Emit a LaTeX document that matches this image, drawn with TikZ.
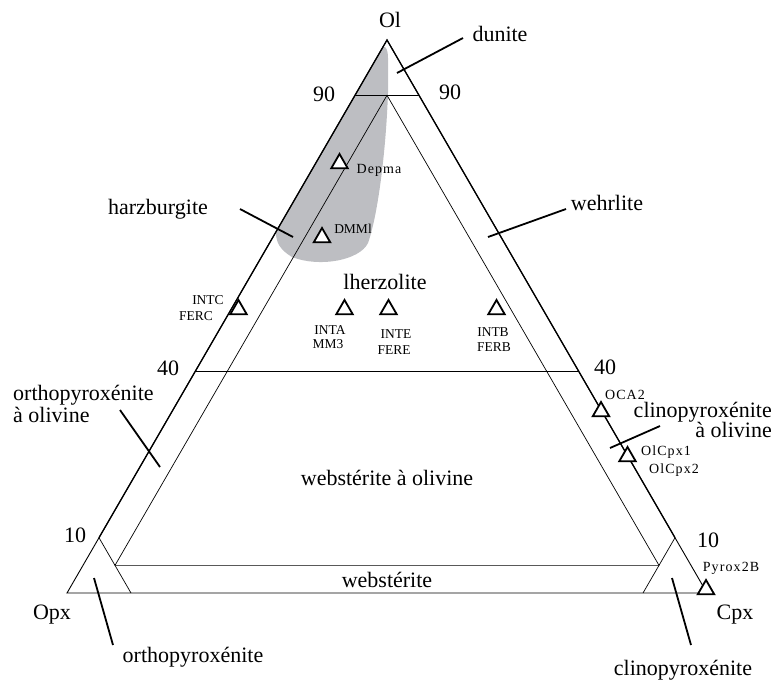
\documentclass[tikz,border=0pt]{standalone}
\usepackage{fontspec}
\setmainfont{Liberation Serif}
\usetikzlibrary{shapes.geometric}
\definecolor{zone}{RGB}{189,190,194}
\tikzset{
  biglabel/.style={font=\fontsize{22}{22}\selectfont, inner sep=0pt},
  smalllabel/.style={font=\fontsize{13.5}{15}\selectfont, inner sep=0pt},
  spacedlabel/.style={font=\fontsize{14}{16}\selectfont\addfontfeature{LetterSpace=8}, inner sep=0pt},
  marker/.style={regular polygon, regular polygon sides=3, draw, fill=white, line width=1.8pt, minimum size=19pt, inner sep=0pt},
  leader/.style={line width=1.8pt},
  border/.style={line width=0.9pt},
  heavyborder/.style={line width=1.3pt},
  innerline/.style={line width=0.7pt},
}
\begin{document}
\begin{tikzpicture}[x=1pt,y=-1pt]
\useasboundingbox (0,0) rectangle (776,681);
% vertices and construction points
\coordinate (Ol) at (387,40);
\coordinate (Opx) at (67,593);
\coordinate (Cpx) at (707,593);
\coordinate (L90) at (355,95.3);
\coordinate (R90) at (419,95.3);
\coordinate (L40) at (195,371.8);
\coordinate (R40) at (579,371.8);
\coordinate (L10) at (99,537.7);
\coordinate (R10) at (675,537.7);
\coordinate (B10) at (131,593);
\coordinate (B90) at (643,593);
\coordinate (ITop) at (387,95.3);
\coordinate (ILeft) at (115,565.35);
\coordinate (IRight) at (659,565.35);
% grey field
\fill[zone] (381,50) .. controls (383,44) and (388,46) .. (388,58) -- (388,93)
  .. controls (386,150) and (378,215) .. (368,243)
  .. controls (360,260) and (320,268) .. (292,257)
  .. controls (280,250) and (276,242) .. (276,233) -- cycle;
% outer triangle
\draw[border] (Ol) -- (Opx) -- (Cpx) -- cycle;
\draw[heavyborder] (L10) -- (Ol) -- (R10);
% inner triangle and lines
\draw[innerline] (ITop) -- (ILeft) -- (IRight) -- cycle;
\draw[innerline] (L90) -- (R90);
\draw[innerline] (L40) -- (R40);
\draw[innerline] (L10) -- (B10);
\draw[innerline] (R10) -- (B90);
% vertex labels
\node[biglabel] (tOl) at (390,20) {Ol};
\node[biglabel] (tOpx) at (52,615) {Opx};
\node[biglabel] (tCpx) at (735,615) {Cpx};
% scale numbers
\node[biglabel] (n90l) at (324,94) {90};
\node[biglabel] (n90r) at (450,92) {90};
\node[biglabel] (n40l) at (168,368) {40};
\node[biglabel] (n40r) at (605,367) {40};
\node[biglabel] (n10l) at (75,535) {10};
\node[biglabel] (n10r) at (708,540) {10};
% field labels
\node[biglabel] (dunite) at (500,34) {dunite};
\node[biglabel] (harz) at (158,209) {harzburgite};
\node[biglabel] (wehr) at (607,203) {wehrlite};
\node[biglabel] (lherz) at (385,282) {lherzolite};
\node[biglabel, align=left, anchor=west] (opxol) at (13,404) {orthopyroxénite\\à olivine};
\node[biglabel, align=right, anchor=east] (cpxol) at (772,420) {clinopyroxénite\\[-2pt]à olivine};
\node[biglabel] (webol) at (387,478) {webstérite à olivine};
\node[biglabel] (web) at (387,580) {webstérite};
\node[biglabel] (opxite) at (193,657) {orthopyroxénite};
\node[biglabel] (cpxite) at (683,670) {clinopyroxénite};
% leader lines
\coordinate (dA) at (397,73);   \coordinate (dB) at (463,38);
\coordinate (hA) at (240,209);  \coordinate (hB) at (293,237);
\coordinate (wA) at (488,237);  \coordinate (wB) at (566,209);
\coordinate (ooA) at (120,410); \coordinate (ooB) at (160,467);
\coordinate (coA) at (610,448); \coordinate (coB) at (660,426);
\coordinate (oA) at (94,578);   \coordinate (oB) at (113,645);
\coordinate (cA) at (672,578);  \coordinate (cB) at (691,645);
\draw[leader] (dA) -- (dB);
\draw[leader] (hA) -- (hB);
\draw[leader] (wA) -- (wB);
\draw[leader] (ooA) -- (ooB);
\draw[leader] (coA) -- (coB);
\draw[leader] (oA) -- (oB);
\draw[leader] (cA) -- (cB);
% sample markers
\node[marker] (mDepma) at (339.5,163.5) {};
\node[marker] (mDMM) at (322,237.5) {};
\node[marker] (mINTC) at (238.5,309.5) {};
\node[marker] (mINTA) at (344.5,309.5) {};
\node[marker] (mINTE) at (388.5,309.5) {};
\node[marker] (mINTB) at (496.5,309.5) {};
\node[marker] (mOCA) at (601,411.5) {};
\node[marker] (mOlCpx) at (627.5,456.5) {};
\node[marker] (mPyrox) at (706,589.5) {};
% sample labels
\node[spacedlabel] (lDepma) at (379,170) {Depma};
\node[smalllabel] (lDMM) at (353,229) {DMMl};
\node[smalllabel] (lINTC) at (208,300) {INTC};
\node[smalllabel] (lFERC) at (196,316) {FERC};
\node[smalllabel] (lINTA) at (330,330) {INTA};
\node[smalllabel] (lMM3) at (328,344) {MM3};
\node[smalllabel] (lINTE) at (396,334.5) {INTE};
\node[smalllabel] (lFERE) at (394,350) {FERE};
\node[smalllabel] (lINTB) at (493,332.5) {INTB};
\node[smalllabel] (lFERB) at (494,347.5) {FERB};
\node[spacedlabel] (lOCA) at (625,395) {OCA2};
\node[spacedlabel] (lOlCpx1) at (666,452) {OlCpx1};
\node[spacedlabel] (lOlCpx2) at (674,470) {OlCpx2};
\node[spacedlabel] (lPyrox) at (731,568) {Pyrox2B};
\end{tikzpicture}
\end{document}
